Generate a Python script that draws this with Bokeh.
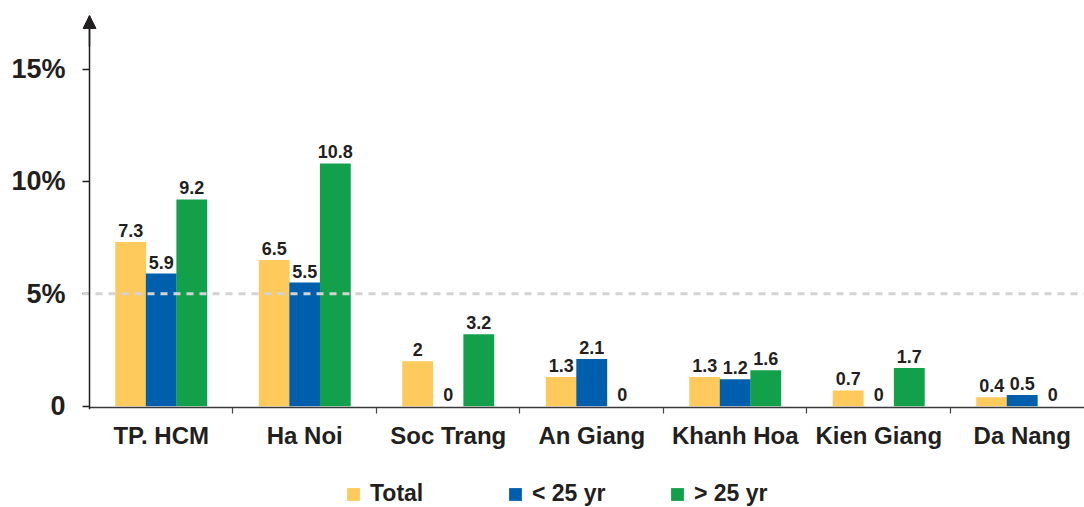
import numpy as np
from bokeh.plotting import figure
from bokeh.layouts import column
from bokeh.models import (Range1d, FixedTicker, Legend, LegendItem, Span, Arrow,
                          NormalHead, ColumnDataSource)
from bokeh.embed import file_html
from bokeh.resources import INLINE

categories = ["TP. HCM", "Ha Noi", "Soc Trang", "An Giang", "Khanh Hoa", "Kien Giang", "Da Nang"]
total = [7.3, 6.5, 2, 1.3, 1.3, 0.7, 0.4]
under25 = [5.9, 5.5, 0, 2.1, 1.2, 0, 0.5]
over25 = [9.2, 10.8, 3.2, 0, 1.6, 1.7, 0]
series_names = ["Total", "< 25 yr", "> 25 yr"]
y_ticks = [0, 5, 10, 15]
y_tick_labels = ["0", "5%", "10%", "15%"]

colors = ["#FDCA5B", "#005FAC", "#12A04A"]
FONT = "Liberation Sans"
TXT = "#231f20"

X_END = 6.934
Y_AXIS_POS = -0.058
p = figure(width=1084, height=470, x_range=Range1d(-0.0488, X_END), y_range=Range1d(-0.147, 17.38),
           output_backend="svg", toolbar_location=None,
           min_border_left=82, min_border_right=0, min_border_top=15, min_border_bottom=61)
p.outline_line_color = None
p.xgrid.visible = False
p.ygrid.visible = False
p.background_fill_color = None
p.border_fill_color = None

centers = np.arange(len(categories)) + 0.5
bw = 0.215
offsets = [-0.213, 0.0, 0.213]
renderers = []
for vals, off, col in zip([total, under25, over25], offsets, colors):
    src = ColumnDataSource(dict(x=centers + off, top=vals,
                                lab=[f"{v:g}" for v in vals]))
    r = p.vbar(x="x", top="top", bottom=0, width=bw, source=src,
               fill_color=col, line_color=None)
    renderers.append(r)
    p.text(x="x", y="top", text="lab", source=src, text_align="center",
           text_baseline="bottom", y_offset=-5, text_font_size="18px",
           text_font_style="bold", text_color=TXT, text_font={"value": FONT})

p.add_layout(Span(location=5, dimension="width", line_color="#d3d3d3",
                  line_width=3, line_dash="7 6"))

# axis lines
p.add_layout(Span(location=0, dimension="height", line_color=TXT, line_width=1.5))
p.segment(x0=[0], y0=[Y_AXIS_POS], x1=[X_END], y1=[Y_AXIS_POS], line_color="#3a3a3a", line_width=1.5)
p.add_layout(Arrow(end=NormalHead(size=13, fill_color=TXT, line_color=TXT),
                   x_start=0, y_start=16.0, x_end=0, y_end=17.38,
                   line_color=TXT, line_width=1.5))

# y axis
ya = p.yaxis[0]
ya.ticker = FixedTicker(ticks=y_ticks)
ya.major_label_overrides = {t: l for t, l in zip(y_ticks, y_tick_labels)}
ya.major_label_text_font = FONT
ya.major_label_text_font_style = "bold"
ya.major_label_text_font_size = "27px"
ya.major_label_text_color = TXT
ya.major_tick_out = 0
ya.major_tick_in = 7
ya.minor_tick_line_color = None
ya.major_label_standoff = 17
ya.axis_line_color = None
ya.major_tick_line_color = TXT
ya.major_tick_line_width = 1.5

# x axis
xa = p.xaxis[0]
xa.ticker = FixedTicker(ticks=list(centers), minor_ticks=list(range(1, len(categories))))
xa.major_label_overrides = {float(c): n for c, n in zip(centers, categories)}
xa.major_label_text_font = FONT
xa.major_label_text_font_style = "bold"
xa.major_label_text_font_size = "24px"
xa.major_label_text_color = TXT
xa.major_tick_line_color = None
xa.major_tick_out = 0
xa.major_tick_in = 0
xa.major_label_standoff = 8
xa.minor_tick_out = 4
xa.minor_tick_in = 2
xa.minor_tick_line_color = "#444444"
xa.minor_tick_line_width = 1.2
xa.axis_line_color = None

# legend figure (frame aligned with the main figure's frame)
lf = figure(width=1084, height=37, x_range=Range1d(0, 1), y_range=Range1d(0, 1),
            output_backend="svg", toolbar_location=None,
            min_border_left=82, min_border_right=0, min_border_top=0, min_border_bottom=0)
lf.axis.visible = False
lf.grid.visible = False
lf.outline_line_color = None
lf.background_fill_color = None
lf.border_fill_color = None
leg_r = [lf.vbar(x=[5], top=[1], width=0.1, fill_color=c, line_color=None) for c in colors]
legend = Legend(items=[LegendItem(label=n, renderers=[r]) for n, r in zip(series_names, leg_r)],
                orientation="horizontal", location=(263, 0),
                glyph_width=16, glyph_height=16, label_standoff=9, label_width=137,
                spacing=0, padding=0, margin=0, border_line_color=None,
                background_fill_alpha=0, label_text_font=FONT,
                label_text_font_style="bold", label_text_font_size="23px",
                label_text_color=TXT)
lf.add_layout(legend, "center")

layout = column(p, lf, spacing=0)
open("out.html", "w").write(file_html(layout, INLINE))
